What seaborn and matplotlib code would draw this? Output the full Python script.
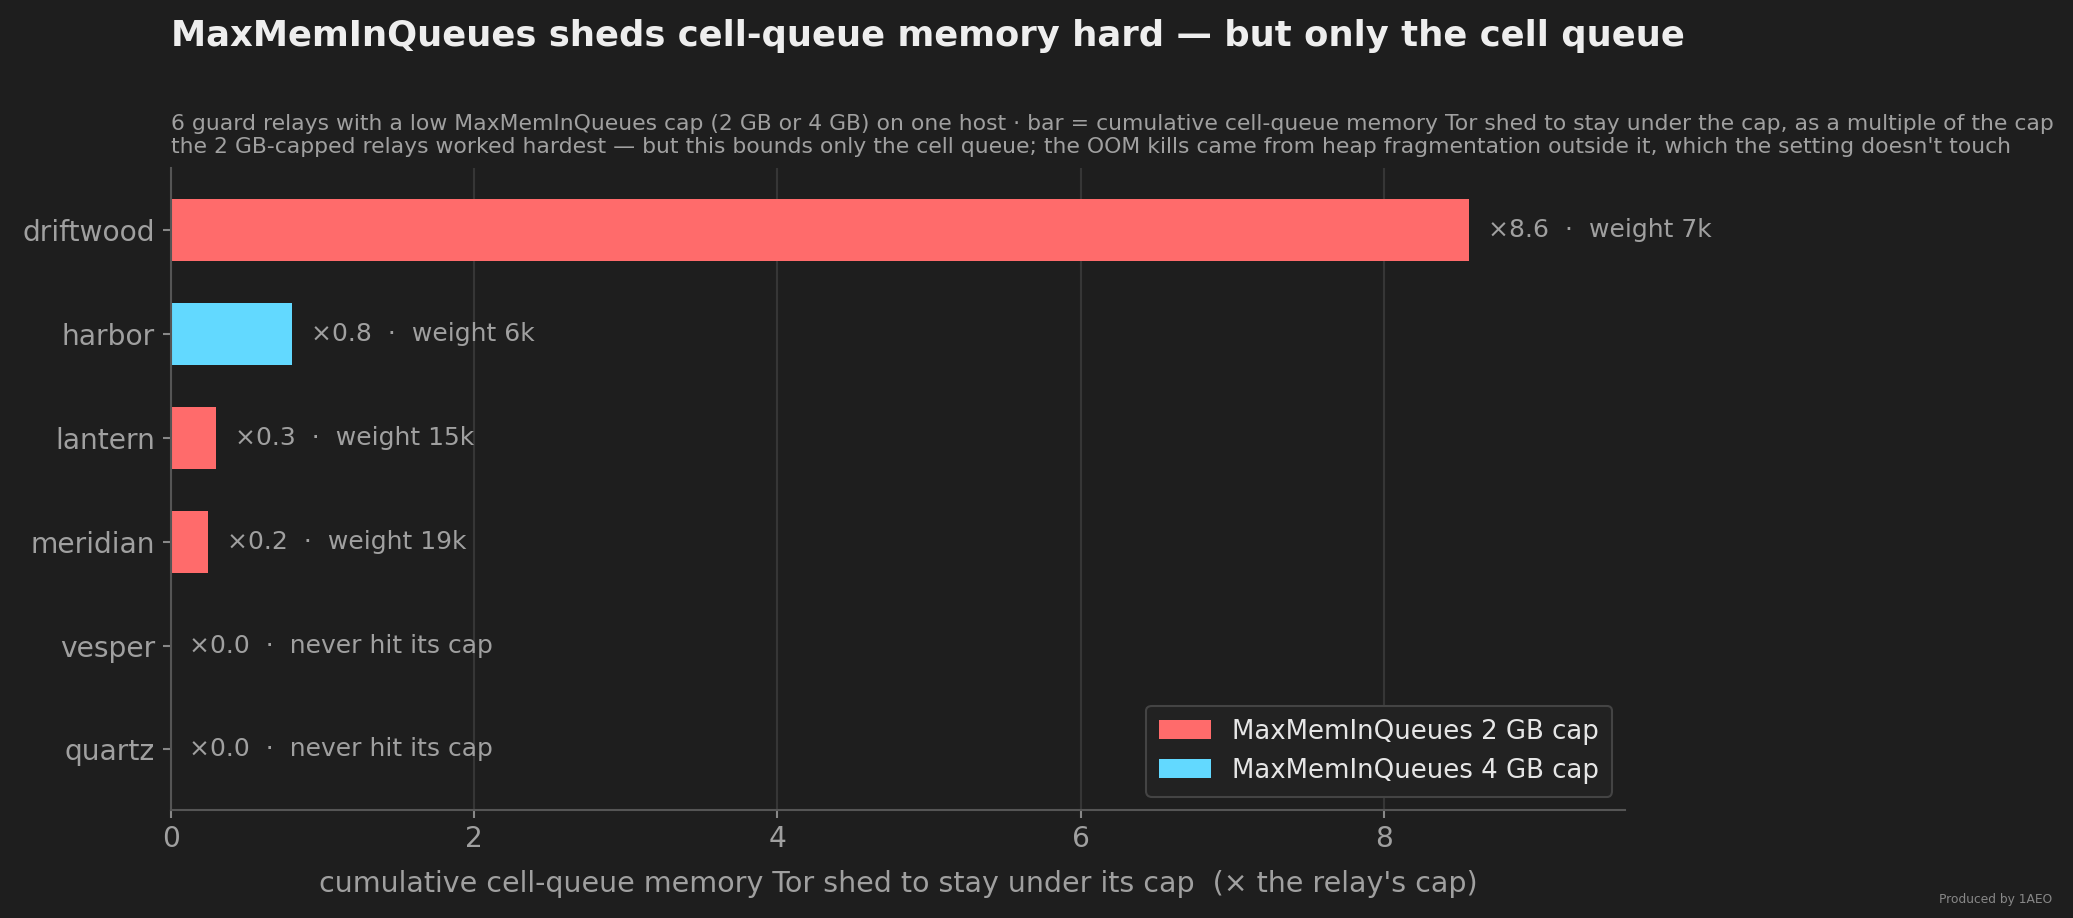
import matplotlib
matplotlib.use("Agg")
import matplotlib.pyplot as plt
import seaborn as sns
import pandas as pd

# relay data
relays = ["driftwood", "harbor", "lantern", "meridian", "vesper", "quartz"]
shed_multiple = [8.56, 0.80, 0.30, 0.245, 0.0, 0.0]
cap = ["2 GB", "4 GB", "2 GB", "2 GB", "4 GB", "2 GB"]
weight = ["7k", "6k", "15k", "19k", None, None]

BG = "#1e1e1e"
RED = "#ff6b6b"
CYAN = "#62d9ff"
GREY = "#a0a0a0"

df = pd.DataFrame({"relay": relays, "shed": shed_multiple, "cap": cap, "weight": weight})
df["group"] = "MaxMemInQueues " + df["cap"] + " cap"

sns.set_theme(style="dark")
plt.rcParams["font.family"] = ["DejaVu Sans"]

fig = plt.figure(figsize=(13.82, 6.12), dpi=150, facecolor=BG)
ax = fig.add_axes([0.0823, 0.118, 0.784 - 0.0823, 0.817 - 0.118])
ax.set_facecolor(BG)

palette = {"MaxMemInQueues 2 GB cap": RED, "MaxMemInQueues 4 GB cap": CYAN}
sns.barplot(data=df, y="relay", x="shed", hue="group", palette=palette,
            hue_order=list(palette.keys()), order=relays, orient="h",
            dodge=False, width=0.6, saturation=1, linewidth=0, ax=ax)

# value labels
for i, row in df.iterrows():
    if row["shed"] > 0:
        txt = f"×{row['shed']:.1f}  ·  weight {row['weight']}"
    else:
        txt = f"×{row['shed']:.1f}  ·  never hit its cap"
    ax.annotate(txt, xy=(row["shed"], i), xytext=(9, 0), textcoords="offset points",
                va="center", ha="left", color=GREY, fontsize=12)

ax.set_xlim(0, 9.59)
ax.set_ylim(5.58, -0.6)
ax.set_xticks([0, 2, 4, 6, 8])
ax.grid(axis="x", color="#363636", linewidth=1)
ax.grid(axis="y", visible=False)
ax.set_axisbelow(True)
for s in ["top", "right"]:
    ax.spines[s].set_visible(False)
for s in ["left", "bottom"]:
    ax.spines[s].set_color("#555555")
    ax.spines[s].set_linewidth(1)
ax.tick_params(axis="both", colors=GREY, labelsize=13.5, length=4, width=1, left=True, bottom=True)
ax.tick_params(axis="x", color="#888888")
ax.tick_params(axis="y", color="#888888")
ax.set_ylabel("")
ax.set_xlabel("cumulative cell-queue memory Tor shed to stay under its cap  (× the relay's cap)",
              color=GREY, fontsize=13.7, labelpad=8)

leg = ax.legend(loc="lower right", fontsize=12.5, facecolor="#222222", edgecolor="#444444",
                framealpha=1, labelcolor="#e6e6e6", handlelength=2.0, borderpad=0.5)
leg.get_frame().set_linewidth(1)

fig.text(0.0823, 0.961, "MaxMemInQueues sheds cell-queue memory hard — but only the cell queue",
         color="#eeeeee", fontsize=17, fontweight="bold", ha="left", va="center")
fig.text(0.0823, 0.852,
         "6 guard relays with a low MaxMemInQueues cap (2 GB or 4 GB) on one host · bar = cumulative "
         "cell-queue memory Tor shed to stay under the cap, as a multiple of the cap\n"
         "the 2 GB-capped relays worked hardest — but this bounds only the cell queue; the OOM kills "
         "came from heap fragmentation outside it, which the setting doesn't touch",
         color=GREY, fontsize=10.5, ha="left", va="center", linespacing=1.2)
fig.text(0.99, 0.02, "Produced by 1AEO", color="#888888", fontsize=5.9, ha="right", va="center")

fig.savefig("out.png", dpi=150, facecolor=BG)
